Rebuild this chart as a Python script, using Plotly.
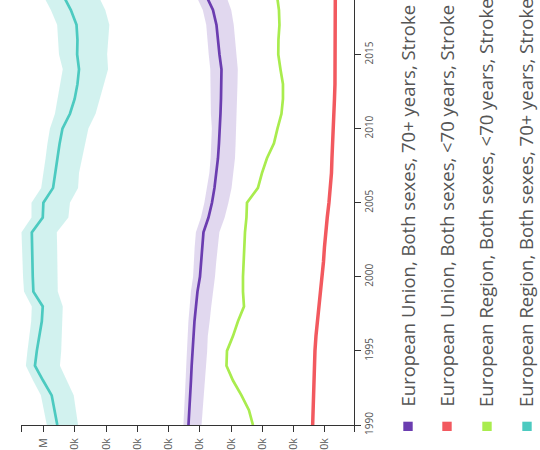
import plotly.graph_objects as go

years = list(range(1990, 2020))

# European Union, Both sexes, 70+ years, Stroke (thousands)
eu70 = [536.8, 533.6, 530.4, 528.8, 526.6, 524.0, 522.4, 517.6, 512.8, 508.0,
        500.0, 496.8, 493.6, 488.8, 472.8, 461.6, 453.6, 447.2, 442.4, 439.2,
        436.0, 434.4, 432.8, 432.2, 431.2, 437.6, 441.5, 447.2, 458.4, 480.8]
eu70_hi = [553, 550, 547, 546, 544, 542, 541, 537, 533, 529,
           522, 520, 517, 513, 497, 486, 477, 470, 466, 464,
           462, 465, 466, 467, 467, 472, 475, 480, 491, 513]
eu70_lo = [495, 491, 487, 484, 481, 477, 475, 469, 464, 459,
           452, 448, 444, 438, 421, 409, 399, 393, 388, 386,
           384, 383, 381, 380, 379, 385, 388, 392, 400, 417]

# European Union, Both sexes, <70 years, Stroke
eu_u70 = [139.5, 138.5, 136.9, 135.3, 133.7, 132.1, 128.9, 124.1, 119.3, 112.9,
          108.1, 104.9, 101.7, 98.5, 92.8, 87.3, 82.5, 79.3, 77.7, 75.2,
          72.9, 71.3, 69.7, 68.1, 68.0, 67.8, 67.5, 67.3, 67.1, 67.0]

# European Region, Both sexes, <70 years, Stroke
er_u70 = [330.5, 343.3, 367.2, 394.4, 415.2, 413.6, 394.4, 378.4, 359.2, 362.4,
          362.4, 360.8, 359.2, 356.0, 351.3, 349.6, 314.5, 301.7, 285.7, 263.3,
          252.1, 239.3, 234.5, 234.5, 242.5, 249.5, 248.9, 245.7, 247.3, 253.7]

# European Region, Both sexes, 70+ years, Stroke
er70 = [956.5, 965.5, 974.4, 1002, 1028, 1022, 1013, 1006, 1003, 1033,
        1035, 1036, 1037, 1038, 1003, 1001, 970, 962, 956, 949,
        940, 916, 901, 892, 887, 893, 892, 895, 913, 938]
er70_hi = [990, 1000, 1009, 1034, 1057, 1052, 1045, 1040, 1038, 1063,
           1066, 1068, 1069, 1071, 1039, 1039, 1008, 1000, 994, 988,
           980, 964, 956, 946, 939, 951, 953, 957, 977, 1002]
er70_lo = [890, 897, 904, 927, 948, 944, 941, 940, 939, 955,
           955, 956, 957, 958, 921, 916, 890, 887, 878, 867,
           857, 834, 821, 807, 794, 797, 793, 790, 803, 826]

legend_labels = [
    "European Union, Both sexes, 70+ years, Stroke",
    "European Union, Both sexes, <70 years, Stroke",
    "European Region, Both sexes, <70 years, Stroke",
    "European Region, Both sexes, 70+ years, Stroke",
]
legend_colors = ["#6b3db0", "#f2595f", "#a9ec4e", "#4ccac0"]

value_ticks = [100, 200, 300, 400, 500, 600, 700, 800, 900, 1000]
value_ticktext = ["100k", "200k", "300k", "400k", "500k", "600k", "700k", "800k", "900k", "1M"]
year_ticks = [1990, 1995, 2000, 2005, 2010, 2015]

K = 1000.0

fig = go.Figure()


def band(hi, lo, fill):
    xs = [v * K for v in hi] + [v * K for v in lo[::-1]]
    ys = years + years[::-1]
    fig.add_trace(go.Scatter(x=xs, y=ys, fill="toself", fillcolor=fill,
                             line=dict(width=0), mode="lines", hoverinfo="skip"))


def line(vals, color, w):
    fig.add_trace(go.Scatter(x=[v * K for v in vals], y=years, mode="lines",
                             line=dict(color=color, width=w)))


band(er70_hi, er70_lo, "rgba(76,202,192,0.25)")
band(eu70_hi, eu70_lo, "rgba(107,61,176,0.2)")
line(er70, "#4ccac0", 2.7)
line(eu70, "#6b3db0", 2.7)
line(er_u70, "#a9ec4e", 2.7)
line(eu_u70, "#f2595f", 3.5)

L, R, T, B = 21, 186, 0, 25
W, H = 540, 450
pw = W - L - R
ph = H - T - B

x_left, x_right = 1072.6 * K, 7.2 * K

fig.update_layout(
    width=W, height=H,
    margin=dict(l=L, r=R, t=T, b=B, pad=0, autoexpand=False),
    paper_bgcolor="white", plot_bgcolor="white",
    showlegend=False,
    font=dict(family="Open Sans", color="#555"),
    xaxis=dict(range=[x_left, x_right], automargin=False,
               tickvals=[v * K for v in value_ticks] + [x_left, x_right],
               ticktext=value_ticktext + ["", ""],
               tickangle=-90, ticks="outside", ticklen=6, tickcolor="#333",
               ticklabelstandoff=2,
               showline=True, linecolor="#333", linewidth=1,
               showgrid=False, zeroline=False,
               tickfont=dict(size=10.5, color="#555")),
    yaxis=dict(range=[1990, 1990 + ph / 14.82], side="right", automargin=False,
               tickvals=year_ticks, ticktext=[str(y) for y in year_ticks],
               tickangle=-90, ticks="outside", ticklen=6, tickcolor="#333",
               showline=True, linecolor="#333", linewidth=1,
               showgrid=False, zeroline=False,
               tickfont=dict(size=10, color="#555")),
)

leg_x = [408, 447, 487, 527]
for i, (lab, col) in enumerate(zip(legend_labels, legend_colors)):
    cx = leg_x[i]
    fig.add_shape(type="rect", xref="paper", yref="paper",
                  x0=(cx - 4.7 - L) / pw, x1=(cx + 4.7 - L) / pw,
                  y0=(H - B - 431) / ph, y1=(H - B - 421.7) / ph,
                  fillcolor=col, line=dict(width=0))
    fig.add_annotation(text=lab, xref="paper", yref="paper",
                       x=(cx - 1.5 - L) / pw, y=(H - B - 409) / ph,
                       xanchor="center", yanchor="bottom", textangle=-90,
                       showarrow=False, font=dict(size=18.5, color="#555"))

fig.write_html("out.html",
               config={"displayModeBar": False},
               post_script="document.body.style.margin='0';"
                           "document.body.style.overflow='hidden';")
